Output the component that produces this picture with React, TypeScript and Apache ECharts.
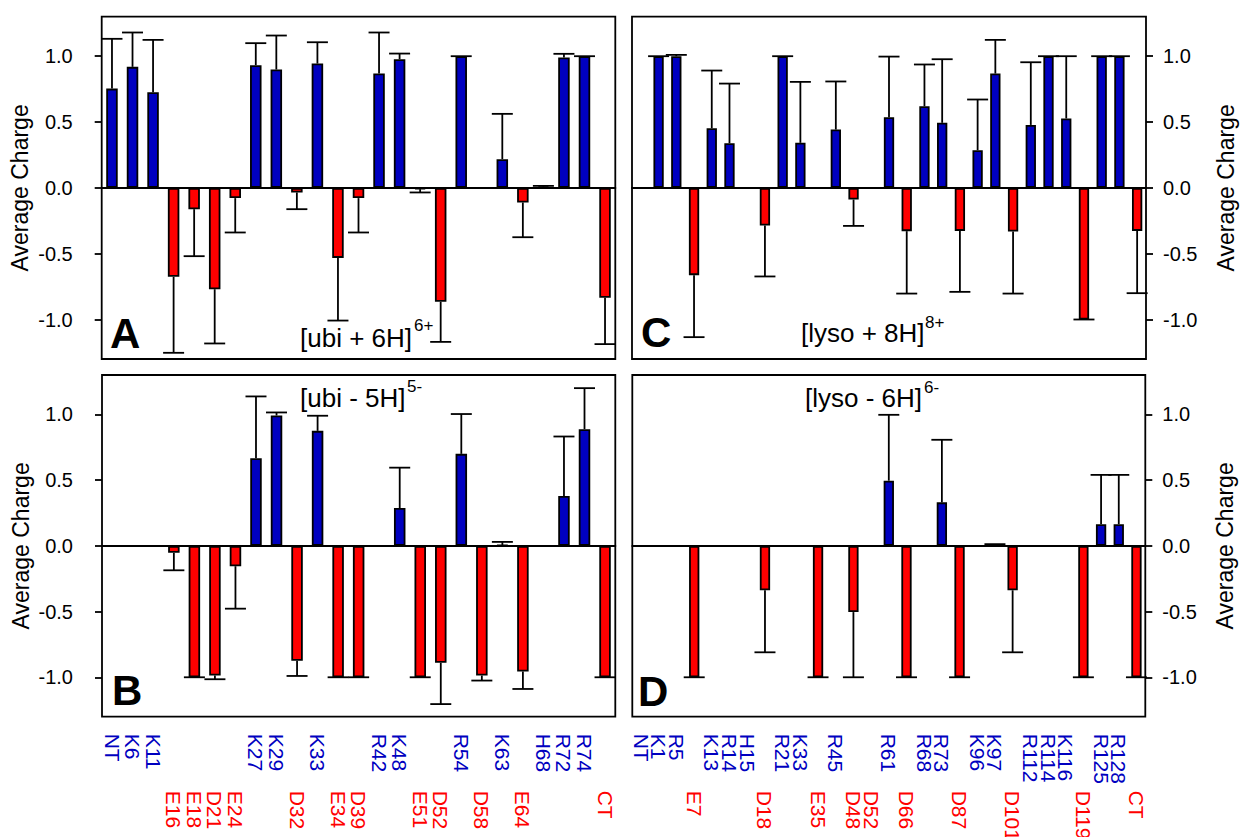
import { useEffect, useRef } from "react";
import * as echarts from "echarts";

const FONT = '"Liberation Sans", Arial, Helvetica, sans-serif';
const BLUE = "#0000c0";
const RED = "#ff0000";

// Categories (residues)
const ubiCategories = ["NT", "K6", "K11", "E16", "E18", "D21", "E24", "K27", "K29", "D32", "K33", "E34", "D39", "R42", "K48", "E51", "D52", "R54", "D58", "K63", "E64", "H68", "R72", "R74", "CT"];
const lysoCategories = ["NT", "K1", "R5", "E7", "K13", "R14", "H15", "D18", "R21", "K33", "E35", "R45", "D48", "D52", "R61", "D66", "R68", "R73", "D87", "K96", "K97", "D101", "R112", "R114", "K116", "D119", "R125", "R128", "CT"];

// Panel A: [ubi + 6H]6+
const ubiPlus6Values = [0.754, 0.919, 0.727, -0.676, -0.162, -0.77, -0.078, 0.932, 0.899, -0.035, 0.944, -0.532, -0.078, 0.868, 0.977, -0.01, -0.866, 1.0, null, 0.218, -0.111, 0.01, 0.99, 1.0, -0.835];
const ubiPlus6Errors = [0.378, 0.261, 0.397, 0.577, 0.357, 0.412, 0.261, 0.167, 0.258, 0.127, 0.162, 0.476, 0.261, 0.312, 0.043, 0.025, 0.304, 0, null, 0.344, 0.264, 0.005, 0.028, 0, 0.352];

// Panel B: [ubi - 5H]5-
const ubiMinus5Values = [null, null, null, -0.053, -1.0, -0.987, -0.155, 0.667, 0.992, -0.875, 0.875, -1.0, -1.0, null, 0.288, -1.0, -0.89, 0.7, -0.987, 0.005, -0.957, null, 0.379, 0.888, -1.0];
const ubiMinus5Errors = [null, null, null, 0.133, 0, 0.028, 0.323, 0.47, 0.023, 0.115, 0.115, 0, 0, null, 0.307, 0, 0.314, 0.303, 0.038, 0.025, 0.132, null, 0.453, 0.312, 0];

// Panel C: [lyso + 8H]8+
const lysoPlus8Values = [null, 1.0, 1.0, -0.663, 0.453, 0.339, null, -0.286, 1.0, 0.342, null, 0.443, -0.089, null, 0.537, -0.329, 0.62, 0.494, -0.327, 0.286, 0.868, -0.332, 0.478, 1.0, 0.527, -1.0, 1.0, 1.0, -0.327];
const lysoPlus8Errors = [null, 0, 0.01, 0.471, 0.438, 0.453, null, 0.387, 0, 0.463, null, 0.365, 0.2, null, 0.46, 0.474, 0.317, 0.483, 0.463, 0.385, 0.256, 0.471, 0.476, 0, 0.473, 0, 0, 0, 0.473];

// Panel D: [lyso - 6H]6-
const lysoMinus6Values = [null, null, null, -1.0, null, null, null, -0.338, null, null, -1.0, null, -0.504, null, 0.496, -1.0, null, 0.331, -1.0, null, 0.01, -0.338, null, null, null, -1.0, 0.165, 0.165, -1.0];
const lysoMinus6Errors = [null, null, null, 0, null, null, null, 0.472, null, null, 0, null, 0.496, null, 0.501, 0, null, 0.476, 0, null, 0.003, 0.472, null, null, null, 0, 0.375, 0.375, 0];

const yTickValues = [-1.0, -0.5, 0.0, 0.5, 1.0];
const Y_MIN = -1.3;
const Y_MAX = 1.3;

const isPositiveResidue = (name: string) => /^(NT|K|R|H)/.test(name);

type Panel = {
  grid: { left: number; top: number; width: number; height: number };
  categories: string[];
  values: (number | null)[];
  errors: (number | null)[];
  side: "left" | "right";
  labels: boolean;
  barWidth: number;
};

const panels: Panel[] = [
  { grid: { left: 101.7, top: 16.7, width: 513.6, height: 342.3 }, categories: ubiCategories, values: ubiPlus6Values, errors: ubiPlus6Errors, side: "left", labels: false, barWidth: 11.5 },
  { grid: { left: 102, top: 375, width: 513.3, height: 341.7 }, categories: ubiCategories, values: ubiMinus5Values, errors: ubiMinus5Errors, side: "left", labels: true, barWidth: 11.5 },
  { grid: { left: 632, top: 16.7, width: 514, height: 342.3 }, categories: lysoCategories, values: lysoPlus8Values, errors: lysoPlus8Errors, side: "right", labels: false, barWidth: 10.3 },
  { grid: { left: 632.3, top: 375, width: 513, height: 341.7 }, categories: lysoCategories, values: lysoMinus6Values, errors: lysoMinus6Errors, side: "right", labels: true, barWidth: 10.3 },
];

const CAP_HALF = 10.5;
const LINE_W = 1.8;

function errorRenderItem(params: any, api: any) {
  const idx = api.value(0);
  const v = api.value(1);
  const e = api.value(2);
  const end = v >= 0 ? v + e : v - e;
  const p0 = api.coord([idx, v]);
  const p1 = api.coord([idx, end]);
  const style = { stroke: "#000", lineWidth: LINE_W };
  return {
    type: "group",
    children: [
      { type: "line", shape: { x1: p0[0], y1: p0[1], x2: p1[0], y2: p1[1] }, style },
      { type: "line", shape: { x1: p1[0] - CAP_HALF, y1: p1[1], x2: p1[0] + CAP_HALF, y2: p1[1] }, style },
    ],
  };
}

function buildOption() {
  const grid: any[] = [];
  const xAxis: any[] = [];
  const yAxis: any[] = [];
  const series: any[] = [];

  panels.forEach((p, gi) => {
    grid.push({
      ...p.grid,
      show: true,
      borderColor: "#000",
      borderWidth: LINE_W,
      backgroundColor: "transparent",
      containLabel: false,
      outerBoundsMode: "none",
    });
    const xi = xAxis.length;
    xAxis.push({
      type: "category",
      gridIndex: gi,
      position: "bottom",
      data: p.categories,
      boundaryGap: true,
      axisLine: { show: true, onZero: true, lineStyle: { color: "#000", width: 2 } },
      axisTick: { show: false },
      axisLabel: { show: false },
      splitLine: { show: false },
    });
    if (p.labels) {
      const rows: [string, boolean, number][] = [
        [BLUE, true, 17],
        [RED, false, 74],
      ];
      rows.forEach(([color, positive, margin]) => {
        xAxis.push({
          type: "category",
          gridIndex: gi,
          position: "bottom",
          data: p.categories,
          boundaryGap: true,
          axisLine: { show: false, onZero: false },
          axisTick: { show: false },
          splitLine: { show: false },
          axisLabel: {
            show: true,
            interval: 0,
            rotate: -90,
            margin,
            color,
            fontSize: 21,
            fontFamily: FONT,
            padding: [5, 0, 0, 0],
            formatter: (v: string) => (isPositiveResidue(v) === positive ? v : ""),
          },
        });
      });
    }
    yAxis.push({
      type: "value",
      gridIndex: gi,
      min: Y_MIN,
      max: Y_MAX,
      position: p.side,
      axisLine: { show: false },
      axisTick: { show: true, inside: false, length: 7, lineStyle: { color: "#000", width: LINE_W }, customValues: yTickValues },
      axisLabel: {
        show: true,
        customValues: yTickValues,
        formatter: (v: number) => v.toFixed(1),
        margin: p.side === "left" ? 29 : 17,
        color: "#000",
        fontSize: 20,
        fontFamily: FONT,
      },
      splitLine: { show: false },
      name: "Average Charge",
      nameLocation: "middle",
      nameRotate: 90,
      nameGap: p.side === "left" ? 70 : 68,
      nameTextStyle: { fontSize: 23, fontFamily: FONT, color: "#000" },
    });
    series.push({
      type: "bar",
      xAxisIndex: xi,
      yAxisIndex: gi,
      barWidth: p.barWidth,
      itemStyle: { borderColor: "#000", borderWidth: LINE_W },
      data: p.values.map((v, i) =>
        v === null ? null : { value: v, itemStyle: { color: isPositiveResidue(p.categories[i]) ? BLUE : RED } }
      ),
      z: 2,
    });
    const errData: number[][] = [];
    p.values.forEach((v, i) => {
      const e = p.errors[i];
      if (v !== null && e !== null) errData.push([i, v, e]);
    });
    series.push({
      type: "custom",
      xAxisIndex: xi,
      yAxisIndex: gi,
      data: errData,
      encode: { x: 0, y: 1 },
      renderItem: errorRenderItem,
      z: 3,
    });
  });

  const txt = (text: string, x: number, y: number, size: number, bold = false) => ({
    type: "text",
    x,
    y,
    z: 10,
    style: {
      text,
      fill: "#000",
      fontSize: size,
      fontFamily: FONT,
      fontWeight: bold ? "bold" : "normal",
      align: "left",
      verticalAlign: "middle",
    },
  });

  const graphic = [
    txt("A", 110, 333, 42, true),
    txt("B", 112, 690, 42, true),
    txt("C", 641, 332, 42, true),
    txt("D", 638, 691.5, 42, true),
    txt("[ubi + 6H]", 300, 338, 26),
    txt("6+", 414, 325, 17),
    txt("[ubi - 5H]", 300, 398, 26),
    txt("5-", 407, 386, 17),
    txt("[lyso + 8H]", 801, 333, 26),
    txt("8+", 925, 322.5, 17),
    txt("[lyso - 6H]", 805, 398, 26),
    txt("6-", 924, 387, 17),
  ];

  return {
    animation: false,
    backgroundColor: "#fff",
    grid,
    xAxis,
    yAxis,
    series,
    graphic,
  };
}

export default function App() {
  const ref = useRef<HTMLDivElement | null>(null);
  useEffect(() => {
    if (!ref.current) return;
    const chart = echarts.init(ref.current, undefined, { renderer: "svg" });
    chart.setOption(buildOption() as any);
    return () => chart.dispose();
  }, []);
  return (
    <div
      ref={ref}
      style={{ position: "absolute", left: 0, top: 0, width: 1240, height: 837 }}
    />
  );
}
